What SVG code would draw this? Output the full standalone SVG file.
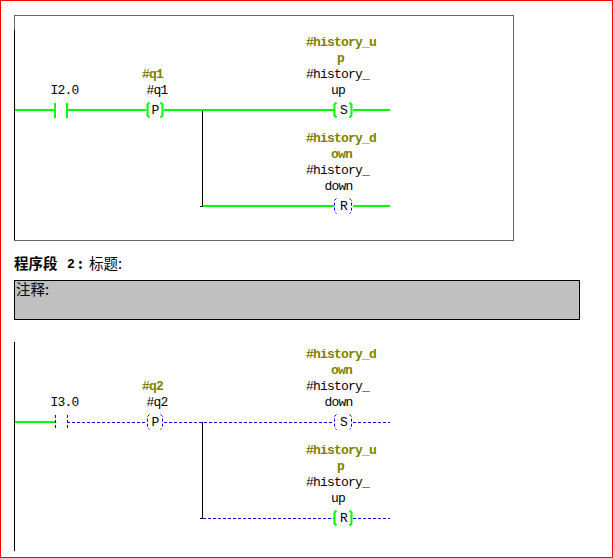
<svg xmlns="http://www.w3.org/2000/svg" width="613" height="558" viewBox="0 0 613 558">
<style>
text{font-family:"Liberation Mono","Noto Sans CJK SC",monospace;font-size:13px;letter-spacing:-0.8px;fill:#000}
.sym{font-weight:700;fill:#808000}
.cjk{font-family:"Noto Sans CJK SC",sans-serif;font-size:14.5px;letter-spacing:0}
.b{font-weight:700}
.g{stroke:#00ff00;stroke-width:2;fill:none}
.d{stroke:#0000ff;stroke-width:1;stroke-dasharray:3 2;fill:none}
.k{stroke:#000;stroke-width:1;fill:none}
.rail{stroke:#000;stroke-width:1;fill:none}
</style>
<defs>
<path id="lb" d="M3.5 0.5L1.5 2.5V13.5L3.5 15.5"/>
<path id="rb" d="M0.5 0.5L2.5 2.5V13.5L0.5 15.5"/>
</defs>
<rect id="frame" x="0.5" y="0.5" width="612" height="557" fill="#fff" stroke="#f00"/>
<rect id="network1-box" x="14.5" y="15.5" width="499" height="225" fill="#fff" stroke="#666"/>
<g id="connectors">
<path class="rail" d="M14.5 30V240M14.5 342V551"/>
<path class="k" d="M202.5 110V206.5H200M202.5 422V518.500H200"/>
<path class="g" d="M15 110H55M67 110H146M164 110H334M353 110H390M203 206H334M353 206H390M15 422H55"/>
<path class="d" d="M67 422.500H146M164 422.500H334M353 422.500H390M203 518.500H334M353 518.500H390"/>
</g>
<g id="contact-I2-0">
<text x="50.500" y="94">I2.0</text>
<path class="g" d="M55 103V118M67 103V118"/>
</g>
<g id="coil-q1">
<text class="sym" x="142" y="78">#q1</text>
<text x="146.500" y="94">#q1</text>
<use href="#lb" class="g" x="146" y="102"/><use href="#rb" class="g" x="160" y="102"/>
<text x="151.500" y="114">P</text>
</g>
<g id="coil-S1">
<text class="sym" x="306" y="46">#history_u</text>
<text class="sym" x="337" y="62">p</text>
<text x="306" y="78">#history_</text>
<text x="331" y="94">up</text>
<use href="#lb" class="g" x="333" y="102"/><use href="#rb" class="g" x="349" y="102"/>
<text x="340" y="114">S</text>
</g>
<g id="coil-R1">
<text class="sym" x="306" y="142">#history_d</text>
<text class="sym" x="331" y="158">own</text>
<text x="306" y="174">#history_</text>
<text x="324.500" y="190">down</text>
<use href="#lb" class="d" x="333" y="198"/><use href="#rb" class="d" x="349" y="198"/>
<text x="340" y="210">R</text>
</g>
<g id="network2-title">
<text class="cjk b" x="14" y="269">程序段</text>
<text class="b" x="67" y="268">2</text>
<text class="cjk b" x="78" y="269">:</text>
<text class="cjk" x="89" y="269">标题:</text>
</g>
<g id="comment">
<rect x="14.500" y="280.500" width="565" height="39" fill="#c0c0c0" stroke="#000"/>
<text class="cjk" x="16" y="295">注释:</text>
</g>
<g id="contact-I3-0">
<text x="50.500" y="406">I3.0</text>
<path class="d" d="M55.500 415V430M67.500 415V430"/>
</g>
<g id="coil-q2">
<text class="sym" x="142" y="390">#q2</text>
<text x="146.500" y="406">#q2</text>
<use href="#lb" class="d" x="146" y="414"/><use href="#rb" class="d" x="160" y="414"/>
<text x="151.500" y="426">P</text>
</g>
<g id="coil-S2">
<text class="sym" x="306" y="358">#history_d</text>
<text class="sym" x="331" y="374">own</text>
<text x="306" y="390">#history_</text>
<text x="324.500" y="406">down</text>
<use href="#lb" class="d" x="333" y="414"/><use href="#rb" class="d" x="349" y="414"/>
<text x="340" y="426">S</text>
</g>
<g id="coil-R2">
<text class="sym" x="306" y="454">#history_u</text>
<text class="sym" x="337" y="470">p</text>
<text x="306" y="486">#history_</text>
<text x="331" y="502">up</text>
<use href="#lb" class="g" x="333" y="510"/><use href="#rb" class="g" x="349" y="510"/>
<text x="340" y="522">R</text>
</g>
</svg>
